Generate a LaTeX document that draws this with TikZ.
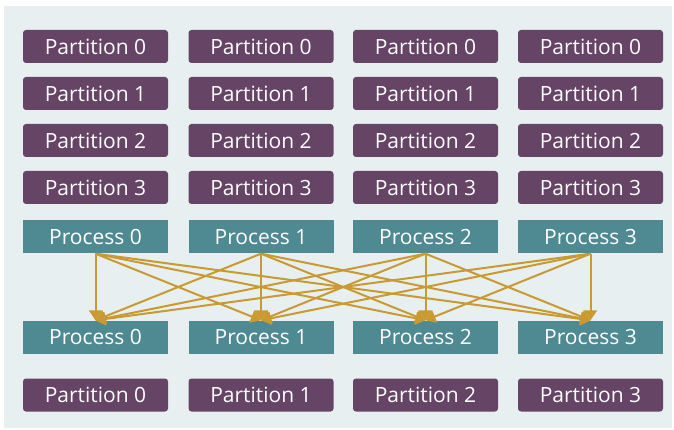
\documentclass[tikz,border=0pt]{standalone}
\usepackage{fontspec}
\setmainfont{Open Sans}
\usetikzlibrary{arrows.meta}
\definecolor{bgc}{HTML}{E7EFF1}
\definecolor{purp}{HTML}{654466}
\definecolor{teal}{HTML}{4F8A92}
\definecolor{gold}{HTML}{C99A30}
\begin{document}
\begin{tikzpicture}[x=1pt,y=-1pt,
  partbox/.style={fill=purp,rounded corners=3pt,minimum width=145pt,minimum height=33pt,inner sep=0pt,text=white,font=\fontsize{21}{25}\selectfont},
  procbox/.style={fill=teal,minimum width=145pt,minimum height=33pt,inner sep=0pt,text=white,font=\fontsize{21}{25}\selectfont},
  link/.style={draw=gold,line width=2pt,-{Triangle[width=13pt,length=10pt]}}]
\useasboundingbox (0,0) rectangle (674,430);
\fill[white] (0,0) rectangle (674,430);
\fill[bgc] (4,6) rectangle (672,428);
\foreach \c/\x in {0/95.5,1/261,2/425.5,3/590.5}{
  \foreach \r/\y in {0/46.5,1/93.5,2/140.5,3/187.5}{
    \node[partbox] (p\r c\c) at (\x,\y) {Partition \r};
  }
  \node[procbox] (s\c) at (\x,237) {Process \c};
  \node[procbox] (t\c) at (\x,337) {Process \c};
  \node[partbox] (b\c) at (\x,395) {Partition \c};
}
\foreach \i in {0,...,3}{
  \foreach \j in {0,...,3}{
    \draw[link] (s\i.south) -- (t\j.north);
  }
}
\end{tikzpicture}
\end{document}
